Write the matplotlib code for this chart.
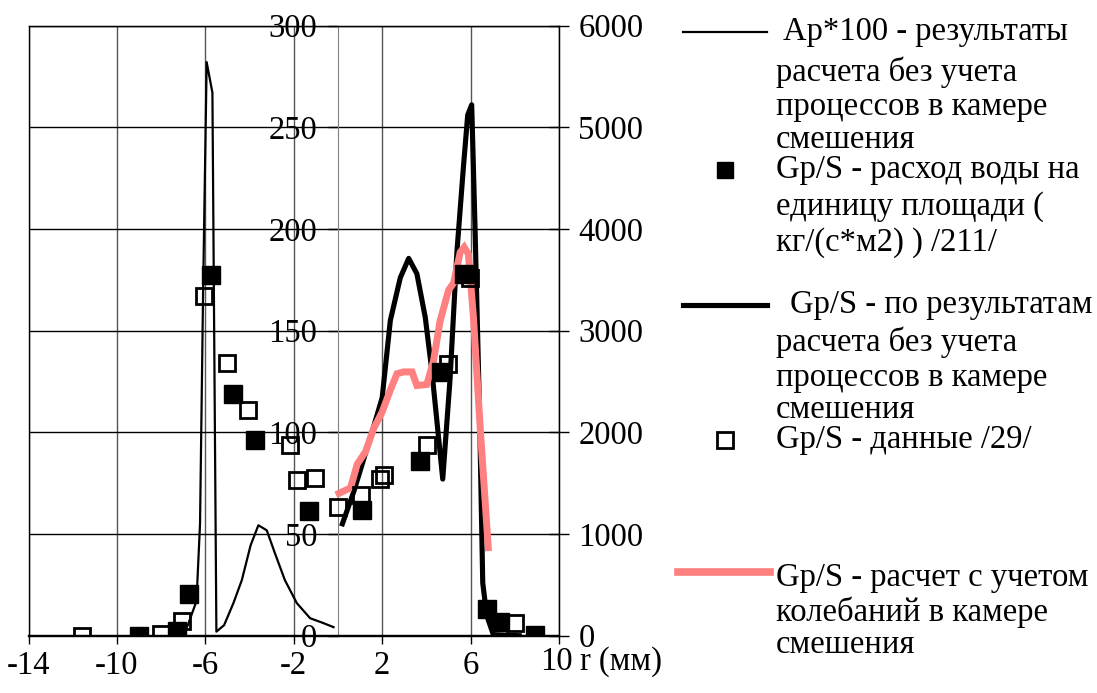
import matplotlib
matplotlib.use('Agg')
import matplotlib.pyplot as plt
from matplotlib.lines import Line2D

plt.rcParams['font.family'] = ['Liberation Serif', 'DejaVu Serif']
plt.rcParams['font.size'] = 23.5

# Ap*100 - расчет без учета процессов в камере смешения (тонкая линия)
ap_r = [-7.6, -7.0, -6.8, -6.4, -6.24, -6.1, -5.94, -5.68, -5.5, -5.15, -4.73,
        -4.35, -3.95, -3.6, -3.22, -2.85, -2.4, -1.86, -1.26, -0.66, -0.2]
ap_v = [0, 1, 5, 17, 55, 170, 282, 267, 2, 5.2, 16,
        27.3, 44.5, 54.3, 51.8, 40.5, 27.3, 16, 8.6, 6.2, 4.2]

# Gp/S - по результатам расчета без учета процессов (толстая черная линия)
gc_r = [0.2, 0.72, 1.17, 1.62, 2.0, 2.37, 2.82, 3.2, 3.57, 3.95, 4.25, 4.74,
        5.07, 5.38, 5.68, 5.87, 6.05, 6.2, 6.4, 6.55, 6.73, 7.03, 8.2]
gc_v = [55, 71, 87, 103, 117, 155, 176, 185.5, 178, 156.5, 130, 77,
        126, 188.5, 231, 256, 261, 201, 112, 26, 10, 0.5, 0]

# Gp/S - расчет с учетом колебаний в камере смешения (розовая линия)
pk_r = [0.05, 0.57, 0.87, 1.25, 1.62, 2.0, 2.37, 2.67, 2.97, 3.35, 3.57, 4.02,
        4.32, 4.62, 5.0, 5.23, 5.53, 5.71, 5.9, 6.13, 6.43, 6.65, 6.8]
pk_v = [70, 72.7, 84.3, 90.5, 102, 110, 120.8, 128.8, 129.7, 129.7, 123, 123.5,
        135, 154.7, 169.8, 173.4, 188.5, 191, 187.6, 156.5, 103, 67.4, 43.3]

# Gp/S - расход воды на единицу площади /211/ (черные квадраты)
fs_r = [-9.0, -7.27, -6.74, -5.76, -4.76, -3.75, -1.31, 1.1, 3.72, 4.65, 5.68,
        6.73, 7.33, 8.9]
fs_v = [0, 2.5, 20.3, 177.5, 119, 96.4, 61.3, 62, 86, 129.7, 177.8,
        13, 6.8, 0.5]

# Gp/S - данные /29/ (пустые квадраты)
os_r = [-11.6, -8.0, -7.04, -6.05, -5.0, -4.05, -2.17, -1.86, -1.04, 0.0, 1.05,
        1.9, 2.1, 4.02, 5.0, 5.98, 8.0]
os_v = [0, 1, 7.2, 167, 134, 111, 94, 76.7, 77.4, 63.4, 69,
        77, 79, 94, 133.6, 176, 6.4]

x_ticks = [-14, -10, -6, -2, 2, 6, 10]
left_ticks = [0, 50, 100, 150, 200, 250, 300]
right_ticks = [0, 1000, 2000, 3000, 4000, 5000, 6000]

W, H = 1097, 693
fig = plt.figure(figsize=(W / 100, H / 100), dpi=100)
ax = fig.add_axes([28.5 / W, 1 - 635.7 / H, (559 - 28.5) / W, (635.7 - 25.5) / H])
ax2 = ax.twinx()

ax.set_xlim(-14, 10)
ax.set_ylim(0, 300)
ax2.set_ylim(0, 6000)
ax.set_xticks(x_ticks)
ax.set_xticklabels([str(t) for t in x_ticks[:-1]] + [''])
ax.set_yticks(left_ticks)
ax2.set_yticks(right_ticks)

ax.grid(axis='y', color='black', lw=1)
ax.grid(axis='x', color='#555555', lw=1)
ax.set_axisbelow(True)

ax.spines['left'].set_position(('data', 0))
ax.spines['left'].set_color('#808080')
ax.spines['bottom'].set_linewidth(1.6)
for s in ['top', 'right', 'left', 'bottom']:
    ax2.spines[s].set_color('black')
    ax2.spines[s].set_linewidth(1)
ax2.spines['bottom'].set_linewidth(1.6)

ax.tick_params(axis='y', direction='out', length=7, pad=8, width=1)
ax.tick_params(axis='x', direction='out', length=6, pad=5, width=1)
ax2.tick_params(axis='y', direction='inout', length=14, pad=7, width=1)

ax.plot(ap_r, ap_v, color='black', lw=1.6, zorder=3)
ax.plot(gc_r, gc_v, color='black', lw=3.7, zorder=4)
ax.plot(pk_r, pk_v, color='#FF8080', lw=5, zorder=5, solid_joinstyle='miter')
ax.plot(fs_r, fs_v, ls='none', marker='s', ms=13, color='black', zorder=6)
ax.plot(os_r, os_v, ls='none', marker='s', ms=12, mfc='none', mec='black',
        mew=2, zorder=7)

# подпись оси x сразу после последней метки
fig.text(556 / W, 1 - 662 / H, '10', ha='center', va='center')
fig.text(580 / W, 1 - 662 / H, 'r (мм)', ha='left', va='center')

# легенда
def fx(px):
    return px / W

def fy(py):
    return 1 - py / H

fig.add_artist(Line2D([fx(683), fx(767)], [fy(32), fy(32)], color='black', lw=1.6))
fig.add_artist(Line2D([fx(725)], [fy(170)], marker='s', ms=12, color='black', ls='none'))
fig.add_artist(Line2D([fx(683), fx(767)], [fy(305), fy(305)], color='black', lw=3.7))
fig.add_artist(Line2D([fx(725)], [fy(440)], marker='s', ms=11, mfc='none', mec='black',
                      mew=2, ls='none'))
fig.add_artist(Line2D([fx(678), fx(770)], [fy(572), fy(572)], color='#FF8080', lw=5.5))

legend_lines = [
    (783, 32, 'Ap*100 - результаты'),
    (776, 72, 'расчета без учета'),
    (776, 107, 'процессов в камере'),
    (776, 140, 'смешения'),
    (776, 170, 'Gp/S - расход воды на'),
    (776, 207, 'единицу площади ('),
    (776, 243, 'кг/(с*м2) ) /211/'),
    (790, 305, 'Gp/S - по результатам'),
    (776, 342, 'расчета без учета'),
    (776, 378, 'процессов в камере'),
    (776, 410, 'смешения'),
    (776, 440, 'Gp/S - данные /29/'),
    (776, 578, 'Gp/S - расчет с учетом'),
    (776, 612, 'колебаний в камере'),
    (776, 645, 'смешения'),
]
for px, py, txt in legend_lines:
    fig.text(fx(px), fy(py), txt, ha='left', va='center')

fig.savefig('out.png', dpi=100)
